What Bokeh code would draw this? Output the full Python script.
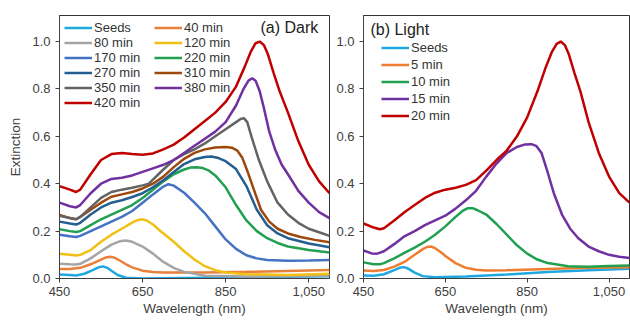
from bokeh.plotting import figure
from bokeh.layouts import row
from bokeh.models import (Range1d, FixedTicker, NumeralTickFormatter, Legend, LegendItem, Label)
from bokeh.embed import file_html
from bokeh.resources import INLINE

# ---------------- data: panel (a) Dark ----------------
dark_labels = ["Seeds", "40 min", "80 min", "120 min", "170 min", "220 min",
               "270 min", "310 min", "350 min", "380 min", "420 min"]
dark_colors = ["#1FA8DF", "#E8803A", "#A5A5A5", "#F2C014", "#4472C4", "#22A052",
               "#255E91", "#9E480E", "#636363", "#7030A0", "#C00000"]

wl_seeds_d = [450, 475, 490, 510, 530, 545, 555, 565, 575, 590, 610, 650, 700, 800, 900, 1000, 1100]
ex_seeds_d = [0.017, 0.015, 0.013, 0.02, 0.035, 0.048, 0.051, 0.045, 0.033, 0.015, 0.003, 0.0, 0.001, 0.003, 0.005, 0.007, 0.01]

wl_40 = [450, 475, 500, 525, 550, 562, 572, 582, 595, 610, 625, 650, 675, 700, 800, 900, 1000, 1100]
ex_40 = [0.04, 0.04, 0.045, 0.06, 0.08, 0.089, 0.092, 0.088, 0.076, 0.06, 0.047, 0.033, 0.027, 0.025, 0.025, 0.028, 0.032, 0.036]

wl_80 = [450, 475, 490, 500, 525, 550, 575, 595, 610, 625, 650, 675, 700, 725, 750, 800, 900, 1000, 1100]
ex_80 = [0.062, 0.06, 0.059, 0.062, 0.085, 0.115, 0.143, 0.157, 0.16, 0.155, 0.135, 0.105, 0.07, 0.045, 0.028, 0.012, 0.008, 0.01, 0.012]

wl_120 = [450, 475, 490, 500, 525, 550, 575, 600, 625, 637, 648, 660, 675, 690, 725, 750, 775, 800, 825, 850, 900, 1000, 1100]
ex_120 = [0.104, 0.1, 0.097, 0.1, 0.12, 0.155, 0.185, 0.21, 0.236, 0.246, 0.25, 0.245, 0.228, 0.205, 0.155, 0.115, 0.08, 0.052, 0.035, 0.025, 0.018, 0.015, 0.02]

wl_170 = [450, 475, 490, 500, 525, 550, 575, 600, 625, 650, 675, 700, 712, 725, 750, 775, 800, 825, 850, 875, 900, 925, 950, 1000, 1050, 1100]
ex_170 = [0.185, 0.178, 0.175, 0.18, 0.2, 0.22, 0.24, 0.26, 0.285, 0.32, 0.355, 0.388, 0.398, 0.392, 0.362, 0.32, 0.275, 0.22, 0.165, 0.125, 0.098, 0.085, 0.078, 0.075, 0.076, 0.078]

wl_220 = [450, 475, 490, 500, 525, 550, 575, 600, 625, 650, 675, 700, 725, 750, 765, 780, 795, 810, 825, 850, 875, 900, 925, 950, 975, 1000, 1050, 1100]
ex_220 = [0.208, 0.2, 0.196, 0.2, 0.225, 0.25, 0.27, 0.29, 0.31, 0.34, 0.375, 0.41, 0.44, 0.46, 0.468, 0.47, 0.466, 0.455, 0.435, 0.385, 0.31, 0.245, 0.2, 0.17, 0.15, 0.135, 0.12, 0.11]

wl_270 = [450, 475, 490, 500, 525, 550, 575, 600, 625, 650, 675, 700, 725, 750, 775, 800, 815, 830, 850, 875, 900, 925, 950, 975, 1000, 1050, 1100]
ex_270 = [0.24, 0.232, 0.228, 0.235, 0.27, 0.3, 0.32, 0.33, 0.344, 0.36, 0.385, 0.415, 0.45, 0.483, 0.503, 0.513, 0.515, 0.51, 0.495, 0.462, 0.39, 0.29, 0.225, 0.19, 0.17, 0.148, 0.132]

wl_310 = [450, 475, 490, 500, 525, 550, 575, 600, 625, 650, 675, 700, 725, 750, 775, 800, 825, 850, 865, 878, 890, 902, 915, 935, 955, 975, 1000, 1030, 1065, 1100]
ex_310 = [0.268, 0.255, 0.25, 0.26, 0.29, 0.32, 0.345, 0.355, 0.365, 0.38, 0.4, 0.43, 0.47, 0.505, 0.53, 0.545, 0.553, 0.555, 0.552, 0.54, 0.51, 0.455, 0.39, 0.29, 0.24, 0.21, 0.19, 0.175, 0.163, 0.153]

wl_350 = [450, 475, 490, 500, 525, 550, 575, 600, 625, 650, 665, 700, 725, 750, 775, 800, 825, 850, 875, 886, 894, 902, 912, 930, 950, 975, 1000, 1025, 1050, 1075, 1100]
ex_350 = [0.265, 0.255, 0.25, 0.26, 0.3, 0.34, 0.365, 0.375, 0.383, 0.393, 0.4, 0.46, 0.5, 0.525, 0.545, 0.57, 0.6, 0.63, 0.66, 0.673, 0.677, 0.66, 0.6, 0.5, 0.41, 0.32, 0.27, 0.235, 0.21, 0.195, 0.18]

wl_380 = [450, 475, 490, 500, 525, 550, 575, 600, 625, 650, 675, 700, 725, 750, 775, 800, 825, 850, 875, 893, 905, 914, 922, 932, 942, 955, 970, 985, 1000, 1025, 1050, 1075, 1100]
ex_380 = [0.32, 0.305, 0.3, 0.31, 0.36, 0.4, 0.42, 0.425, 0.435, 0.45, 0.465, 0.48, 0.5, 0.53, 0.56, 0.59, 0.62, 0.66, 0.73, 0.8, 0.835, 0.845, 0.835, 0.79, 0.72, 0.62, 0.54, 0.48, 0.44, 0.37, 0.32, 0.28, 0.255]

wl_420 = [450, 475, 490, 500, 525, 550, 575, 600, 625, 650, 675, 700, 725, 750, 775, 800, 825, 850, 875, 895, 910, 922, 932, 942, 952, 965, 980, 1000, 1025, 1050, 1075, 1100]
ex_420 = [0.39, 0.375, 0.365, 0.375, 0.44, 0.5, 0.525, 0.53, 0.525, 0.522, 0.528, 0.545, 0.565, 0.595, 0.63, 0.665, 0.7, 0.745, 0.81, 0.89, 0.955, 0.993, 1.0, 0.985, 0.945, 0.87, 0.79, 0.7, 0.58, 0.48, 0.41, 0.36]

# ---------------- data: panel (b) Light ----------------
light_labels = ["Seeds", "5 min", "10 min", "15 min", "20 min"]
light_colors = ["#1FA8DF", "#ED7D31", "#22A052", "#7030A0", "#C00000"]

wl_seeds_l = [450, 475, 500, 525, 538, 548, 558, 575, 595, 625, 700, 800, 900, 1000, 1100]
ex_seeds_l = [0.013, 0.012, 0.018, 0.035, 0.045, 0.048, 0.043, 0.025, 0.01, 0.005, 0.008, 0.017, 0.027, 0.035, 0.041]

wl_5 = [450, 475, 500, 525, 550, 575, 595, 605, 615, 625, 640, 650, 675, 700, 725, 750, 800, 900, 1000, 1100]
ex_5 = [0.034, 0.032, 0.036, 0.05, 0.07, 0.1, 0.124, 0.133, 0.135, 0.128, 0.11, 0.095, 0.065, 0.045, 0.037, 0.034, 0.035, 0.04, 0.045, 0.048]

wl_10 = [450, 475, 490, 500, 525, 550, 575, 600, 625, 650, 675, 692, 705, 718, 730, 750, 775, 800, 825, 850, 875, 900, 950, 1000, 1050, 1100]
ex_10 = [0.068, 0.06, 0.06, 0.065, 0.085, 0.108, 0.13, 0.155, 0.185, 0.22, 0.26, 0.285, 0.297, 0.296, 0.287, 0.27, 0.23, 0.185, 0.14, 0.105, 0.08, 0.065, 0.052, 0.05, 0.053, 0.055]

wl_15 = [450, 470, 482, 500, 525, 550, 575, 600, 625, 650, 675, 700, 725, 750, 775, 800, 825, 845, 860, 872, 885, 898, 915, 935, 955, 975, 1000, 1025, 1050, 1075, 1100]
ex_15 = [0.118, 0.106, 0.104, 0.115, 0.145, 0.178, 0.2, 0.225, 0.245, 0.265, 0.295, 0.33, 0.37, 0.43, 0.485, 0.53, 0.555, 0.566, 0.567, 0.56, 0.53, 0.46, 0.36, 0.27, 0.21, 0.17, 0.135, 0.115, 0.1, 0.092, 0.087]

wl_20 = [450, 475, 490, 500, 525, 550, 575, 600, 625, 650, 675, 700, 725, 750, 775, 800, 825, 850, 875, 895, 910, 922, 932, 942, 952, 965, 980, 1000, 1025, 1050, 1075, 1100]
ex_20 = [0.232, 0.215, 0.208, 0.212, 0.245, 0.28, 0.31, 0.34, 0.362, 0.375, 0.383, 0.395, 0.415, 0.455, 0.5, 0.54, 0.6, 0.68, 0.79, 0.89, 0.955, 0.99, 1.0, 0.985, 0.945, 0.87, 0.79, 0.66, 0.53, 0.43, 0.36, 0.32]

x_ticks = [450, 650, 850, 1050]
y_ticks = [0.0, 0.2, 0.4, 0.6, 0.8, 1.0]

dark_series = [(wl_seeds_d, ex_seeds_d), (wl_40, ex_40), (wl_80, ex_80), (wl_120, ex_120),
               (wl_170, ex_170), (wl_220, ex_220), (wl_270, ex_270), (wl_310, ex_310),
               (wl_350, ex_350), (wl_380, ex_380), (wl_420, ex_420)]
light_series = [(wl_seeds_l, ex_seeds_l), (wl_5, ex_5), (wl_10, ex_10), (wl_15, ex_15), (wl_20, ex_20)]

FONT = "Liberation Sans"
TXT = "#404040"
LW = 2.5
FH = 263


def make_fig(width, border_left, border_right, ylabel):
    p = figure(width=width, height=320, output_backend="svg", toolbar_location=None,
               x_range=Range1d(450, 1100), y_range=Range1d(0, 1.11),
               min_border_left=border_left, min_border_right=border_right,
               min_border_top=15, min_border_bottom=42)
    p.xgrid.visible = False
    p.ygrid.visible = False
    p.outline_line_color = "#333333"
    p.outline_line_width = 1
    p.background_fill_color = "white"
    p.border_fill_color = "white"
    for ax in (p.xaxis[0], p.yaxis[0]):
        ax.axis_line_color = "#404040"
        ax.major_tick_line_color = "#404040"
        ax.major_tick_out = 4
        ax.major_tick_in = 0
        ax.minor_tick_line_color = None
        ax.major_label_text_font = FONT
        ax.major_label_text_font_size = "13px"
        ax.major_label_text_color = TXT
        ax.axis_label_text_font = FONT
        ax.axis_label_text_font_size = "13.5px"
        ax.axis_label_text_font_style = "normal"
        ax.axis_label_text_color = TXT
    p.xaxis.ticker = FixedTicker(ticks=x_ticks)
    p.xaxis.formatter = NumeralTickFormatter(format="0,0")
    p.xaxis.major_label_standoff = 4
    p.xaxis.axis_label = "Wavelength (nm)"
    p.xaxis.axis_label_standoff = 2
    p.yaxis.ticker = FixedTicker(ticks=y_ticks)
    p.yaxis.formatter = NumeralTickFormatter(format="0.0")
    p.yaxis.major_label_standoff = 5
    if ylabel:
        p.yaxis.axis_label = ylabel
        p.yaxis.axis_label_standoff = 6
    return p


def make_legend(items, loc, gh):
    return Legend(items=items, location=loc, orientation="vertical",
                  background_fill_alpha=0, border_line_alpha=0,
                  label_text_font=FONT, label_text_font_size="13px", label_text_color="#333333",
                  glyph_width=28, glyph_height=gh, label_height=gh, label_standoff=2,
                  spacing=0, padding=5, margin=0)


# ---- panel (a)
p1 = make_fig(333, 59, 4, "Extinction")
r_dark = []
for (wl, ex), c in zip(dark_series, dark_colors):
    r_dark.append(p1.line(wl, ex, line_color=c, line_width=LW))
col1 = [0, 2, 4, 6, 8, 10]
col2 = [1, 3, 5, 7, 9]
leg1 = make_legend([LegendItem(label=dark_labels[i], renderers=[r_dark[i]]) for i in col1], (0, FH - 100), 15)
leg2 = make_legend([LegendItem(label=dark_labels[i], renderers=[r_dark[i]]) for i in col2], (90, FH - 85), 15)
p1.add_layout(leg1)
p1.add_layout(leg2)
p1.add_layout(Label(x=934, y=1.061, text="(a) Dark", text_font=FONT, text_font_size="16px",
                    text_color="#222222", text_baseline="middle", text_align="left"))

# ---- panel (b)
p2 = make_fig(297, 29, 1, None)
r_light = []
for (wl, ex), c in zip(light_series, light_colors):
    r_light.append(p2.line(wl, ex, line_color=c, line_width=LW))
leg3 = make_legend([LegendItem(label=light_labels[i], renderers=[r_light[i]]) for i in range(5)],
                   (13, FH - 19 - 95), 17)
p2.add_layout(leg3)
p2.add_layout(Label(x=467, y=1.05, text="(b) Light", text_font=FONT, text_font_size="16px",
                    text_color="#222222", text_baseline="middle", text_align="left"))

layout = row(p1, p2, spacing=0)
open("out.html", "w").write(file_html(layout, INLINE))
